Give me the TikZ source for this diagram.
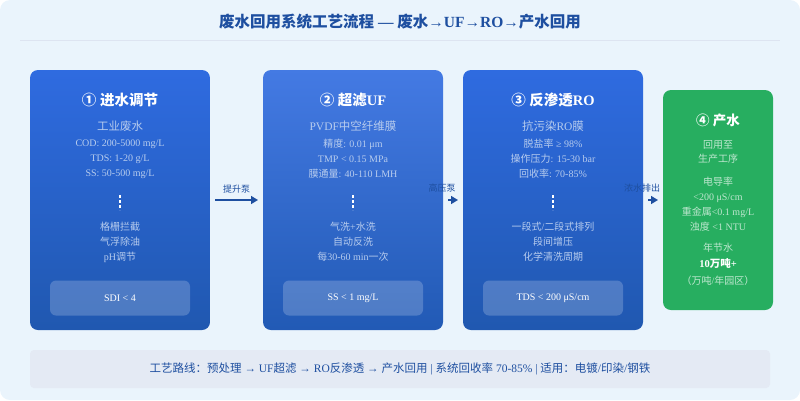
\documentclass[tikz,border=0pt]{standalone}
\usepackage{fontspec}
\setmainfont{Liberation Serif}
\newfontfamily\cjk{Noto Sans CJK SC}
\usetikzlibrary{arrows.meta}
% switch to the CJK family for Chinese characters
\XeTeXinterchartokenstate=1
\newXeTeXintercharclass\cjkclass
\count255="4E00
\loop\ifnum\count255<"A000 \XeTeXcharclass\count255=\cjkclass \advance\count255 by 1 \repeat
\count255="3000
\loop\ifnum\count255<"3040 \XeTeXcharclass\count255=\cjkclass \advance\count255 by 1 \repeat
\count255="FF00
\loop\ifnum\count255<"FF20 \XeTeXcharclass\count255=\cjkclass \advance\count255 by 1 \repeat
\count255="2460
\loop\ifnum\count255<"2470 \XeTeXcharclass\count255=\cjkclass \advance\count255 by 1 \repeat
\XeTeXinterchartoks 0 \cjkclass = {\begingroup\cjk}
\XeTeXinterchartoks 4095 \cjkclass = {\begingroup\cjk}
\XeTeXinterchartoks \cjkclass 0 = {\endgroup}
\XeTeXinterchartoks \cjkclass 4095 = {\endgroup}
\definecolor{bg}{HTML}{EAF4FC}
\definecolor{ink}{HTML}{1E4FA0}
\definecolor{bluetop}{HTML}{2F6BE0}
\definecolor{bluebot}{HTML}{2058B0}
\definecolor{green}{HTML}{27AE60}
\definecolor{pale}{HTML}{B7CCEE}

\begin{document}
\begin{tikzpicture}[x=1pt,y=-1pt,
    stage/.style={rounded corners=8pt, minimum width=180pt, minimum height=260pt,
      top color=bluetop, bottom color=bluebot, draw=none},
    badge/.style={rounded corners=6pt, fill=white, fill opacity=0.2, text opacity=1,
      minimum width=140pt, minimum height=35pt, text=white, font=\fontsize{10}{12}\selectfont},
    head/.style={text=white, font=\bfseries\fontsize{14.5}{16}\selectfont},
    sub/.style={text=pale, font=\fontsize{11.5}{13}\selectfont},
    info/.style={text=pale, align=center, font=\fontsize{10}{15}\selectfont},
    pump/.style={text=ink, font=\fontsize{9}{10}\selectfont},
    flow/.style={-{Triangle[length=7pt,width=8pt]}, ink, line width=1.6pt}]
  \useasboundingbox (0,0) rectangle (800,400);
  \fill[bg, rounded corners=10pt] (0,0) rectangle (800,400);

  % title
  \node[text=ink, font=\bfseries\fontsize{15.5}{18}\selectfont] (title) at (400,22)
    {废水回用系统工艺流程 — 废水→UF→RO→产水回用};
  \draw[ink!15!white, line width=1pt] (20,40) -- (780,40);

  % stage 1
  \node[stage] (s1) at (120,200) {};
  \node[head] (h1) at (120,100) {① 进水调节};
  \node[sub] at (120,126) {工业废水};
  \node[info] at (120,159) {COD: 200-5000 mg/L\\TDS: 1-20 g/L\\SS: 50-500 mg/L};
  \draw[white, dash pattern=on 3pt off 2pt, line width=1.2pt] (120,195) -- (120,210);
  \node[info] at (120,242) {格栅拦截\\气浮除油\\pH调节};
  \node[badge] (b1) at (120,298) {SDI < 4};

  % stage 2
  \node[stage, top color=bluetop!90!white, bottom color=bluebot!90!bluetop] (s2) at (353,200) {};
  \node[head] (h2) at (353,100) {② 超滤UF};
  \node[sub] at (353,126) {PVDF中空纤维膜};
  \node[info] at (353,159) {精度: 0.01 μm\\TMP < 0.15 MPa\\膜通量: 40-110 LMH};
  \draw[white, dash pattern=on 3pt off 2pt, line width=1.2pt] (353,195) -- (353,210);
  \node[info] at (353,242) {气洗+水洗\\自动反洗\\每30-60 min一次};
  \node[badge] (b2) at (353,298) {SS < 1 mg/L};

  % stage 3
  \node[stage] (s3) at (553,200) {};
  \node[head] (h3) at (553,100) {③ 反渗透RO};
  \node[sub] at (553,126) {抗污染RO膜};
  \node[info] at (553,159) {脱盐率 ≥ 98\%\\操作压力: 15-30 bar\\回收率: 70-85\%};
  \draw[white, dash pattern=on 3pt off 2pt, line width=1.2pt] (553,195) -- (553,210);
  \node[info] at (553,242) {一段式/二段式排列\\段间增压\\化学清洗周期};
  \node[badge] (b3) at (553,298) {TDS < 200 μS/cm};

  % stage 4
  \node[rounded corners=8pt, fill=green, minimum width=110pt, minimum height=220pt] (s4) at (718,200) {};
  \node[head, font=\bfseries\fontsize{13.5}{15}\selectfont] (h4) at (718,120) {④ 产水};
  \node[info, text=white!70!green, font=\fontsize{10}{14}\selectfont] at (718,152) {回用至\\生产工序};
  \node[info, text=white!70!green, font=\fontsize{10}{15}\selectfont] at (718,204) {电导率\\<200 μS/cm\\重金属<0.1 mg/L\\浊度 <1 NTU};
  \node[info, text=white!70!green] at (718,248) {年节水};
  \node[text=white, font=\bfseries\fontsize{10.5}{12}\selectfont] at (718,263) {10万吨+};
  \node[info, text=white!70!green] at (718,281) {（万吨/年园区）};

  % connectors
  \coordinate (a1) at (215,200);
  \coordinate (a2) at (258,200);
  \draw[flow] (a1) -- (a2) node[pump, midway, above=3pt] {提升泵};
  \coordinate (c1) at (448,200);
  \coordinate (c2) at (458,200);
  \draw[flow] (c1) -- (c2);
  \node[pump] at (442,188) {高压泵};
  \coordinate (d1) at (648,200);
  \coordinate (d2) at (658,200);
  \draw[flow] (d1) -- (d2);
  \node[pump] at (642,188) {浓水排出};

  % route strip
  \node[fill=ink!12!white, rounded corners=4pt, minimum width=740pt, minimum height=38pt,
    text=ink, font=\fontsize{11.5}{13}\selectfont] (route) at (400,369)
    {工艺路线：预处理 → UF超滤 → RO反渗透 → 产水回用 | 系统回收率 70-85\% | 适用：电镀/印染/钢铁};
\end{tikzpicture}
\end{document}
